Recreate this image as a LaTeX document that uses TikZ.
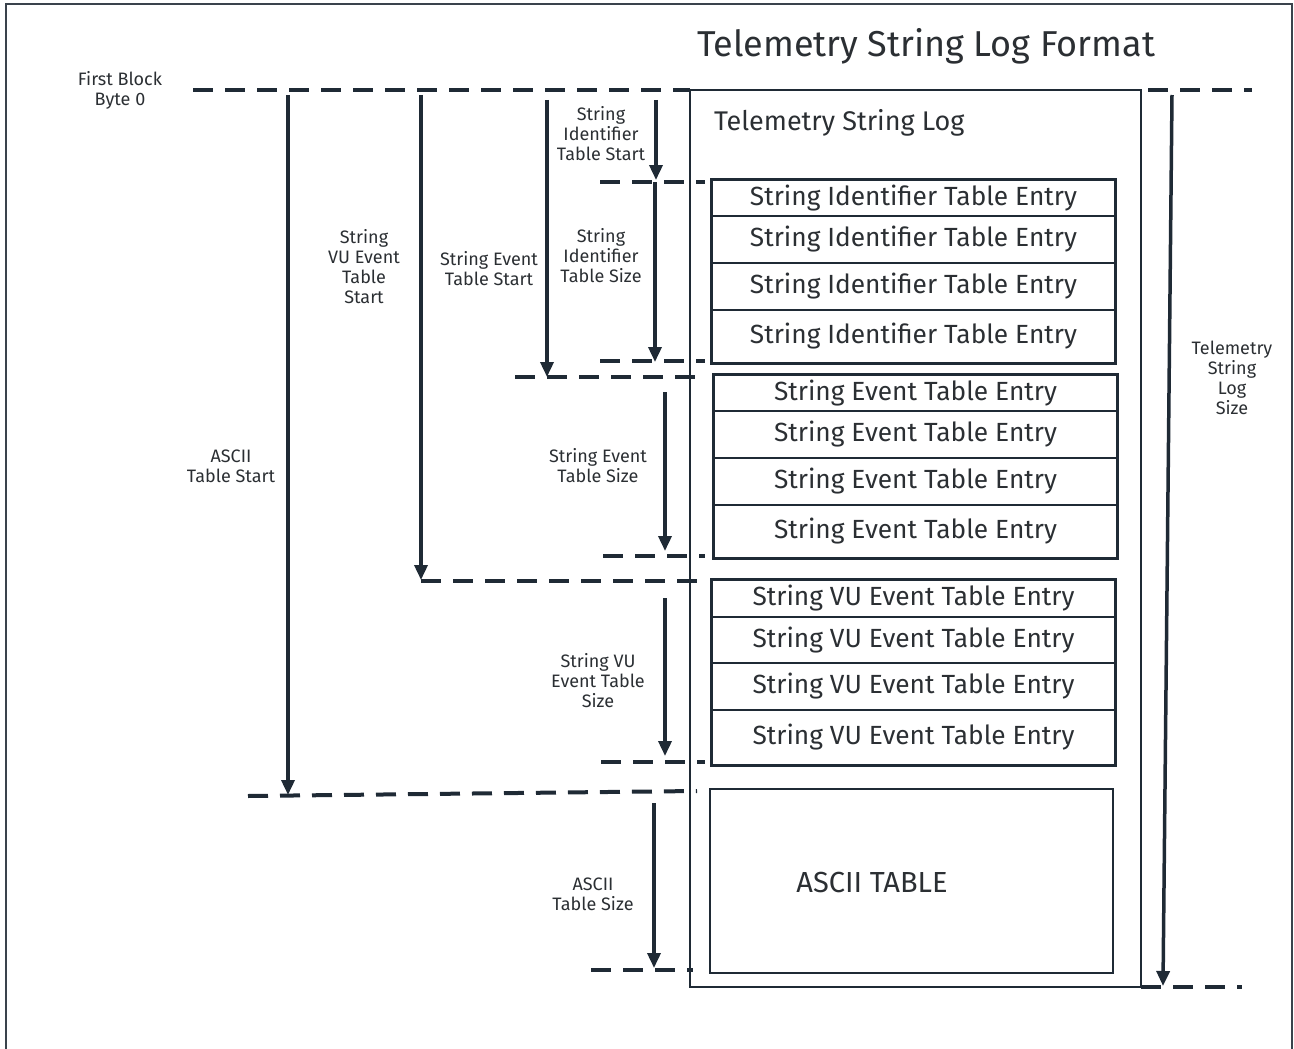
\documentclass[tikz,border=0pt]{standalone}
\usepackage{fontspec}
\setmainfont{Fira Sans}
\usetikzlibrary{arrows.meta}
\definecolor{ink}{HTML}{1F2A35}
\definecolor{txt}{HTML}{2B2F33}
\definecolor{frame}{HTML}{3A434C}

% one row of an entry table: name, left, right, top, bottom, text
\newcommand\tablerow[6]{%
  \node[entry, minimum width={(#3)-(#2)}, minimum height={(#5)-(#4)}]
    (#1) at ({((#2)+(#3))/2},{((#4)+(#5))/2}) {\raisebox{-1.5pt}{#6}};}

\begin{document}
\begin{tikzpicture}[x=1pt,y=-1pt,
  guide/.style={draw=ink, line width=4pt, dash pattern=on 20pt off 12pt},
  measure/.style={draw=ink, line width=3.5pt, -{Triangle[width=13pt,length=15pt]}},
  lbl/.style={text=txt, align=center, font=\fontsize{18}{20}\selectfont, inner sep=0pt},
  entry/.style={draw=ink, line width=1.5pt, inner sep=0pt, text=txt,
    font=\fontsize{26.3}{30}\selectfont},
  tableframe/.style={draw=ink, line width=2.5pt},
]
\useasboundingbox (0,0) rectangle (1294,1049);

% page frame
\draw[frame, line width=2pt] (6,1049) -- (6,4) -- (1292,4) -- (1292,1049);

% title
\node[text=txt, font=\fontsize{36}{40}\selectfont, inner sep=0pt] (title) at (926,46) {Telemetry String Log Format};

% telemetry string log container
\node[draw=ink, line width=2pt, minimum width=451, minimum height=897, inner sep=0pt] (log) at (915.5,538.5) {};
\node[text=txt, font=\fontsize{27}{30}\selectfont, anchor=west, inner sep=0pt] (logname) at (714,123) {Telemetry String Log};

% string identifier table
\tablerow{si1}{712}{1115}{180}{216}{String Identifier Table Entry}
\tablerow{si2}{712}{1115}{216}{263}{String Identifier Table Entry}
\tablerow{si3}{712}{1115}{263}{310}{String Identifier Table Entry}
\tablerow{si4}{712}{1115}{310}{363}{String Identifier Table Entry}
\draw[tableframe] (si1.north west) rectangle (si4.south east);

% string event table
\tablerow{se1}{714}{1117}{375}{411}{String Event Table Entry}
\tablerow{se2}{714}{1117}{411}{458}{String Event Table Entry}
\tablerow{se3}{714}{1117}{458}{505}{String Event Table Entry}
\tablerow{se4}{714}{1117}{505}{558}{String Event Table Entry}
\draw[tableframe] (se1.north west) rectangle (se4.south east);

% string VU event table
\tablerow{vu1}{712}{1115}{580}{617}{String VU Event Table Entry}
\tablerow{vu2}{712}{1115}{617}{663}{String VU Event Table Entry}
\tablerow{vu3}{712}{1115}{663}{710}{String VU Event Table Entry}
\tablerow{vu4}{712}{1115}{710}{765}{String VU Event Table Entry}
\draw[tableframe] (vu1.north west) rectangle (vu4.south east);

% ascii table
\node[draw=ink, line width=2.5pt, minimum width=403, minimum height=184, inner sep=0pt] (ascii) at (911.5,881) {};
\node[text=txt, font=\fontsize{29}{32}\selectfont, inner sep=0pt] (asciilbl) at (872,883) {ASCII TABLE};

% offset guide lines
\coordinate (g0a) at (193,90);   \coordinate (g0b) at (690,90);
\coordinate (g0c) at (1148,90);  \coordinate (g0d) at (1252,90);
\coordinate (g1a) at (600,182);  \coordinate (g1b) at (705,182);
\coordinate (g2a) at (600,361);  \coordinate (g2b) at (705,361);
\coordinate (g3a) at (515,377);  \coordinate (g3b) at (705,377);
\coordinate (g4a) at (603,556);  \coordinate (g4b) at (705,556);
\coordinate (g5a) at (421,581);  \coordinate (g5b) at (697,581);
\coordinate (g6a) at (601,762);  \coordinate (g6b) at (705,762);
\coordinate (g7a) at (248,796);  \coordinate (g7b) at (697,791);
\coordinate (g8a) at (591,970);  \coordinate (g8b) at (693,970);
\coordinate (g9a) at (1141,987); \coordinate (g9b) at (1242,987);
\foreach \n in {0,1,2,3,4,5,6,7,8,9} \draw[guide] (g\n a) -- (g\n b);
\draw[guide] (g0c) -- (g0d);

% measurement arrows
\coordinate (a1s) at (288,95);   \coordinate (a1e) at (288,795);
\coordinate (a2s) at (421,95);   \coordinate (a2e) at (421,580);
\coordinate (a3s) at (547,100);  \coordinate (a3e) at (547,377);
\coordinate (a4s) at (656,100);  \coordinate (a4e) at (656,180);
\coordinate (a5s) at (655,182);  \coordinate (a5e) at (655,362);
\coordinate (a6s) at (665,392);  \coordinate (a6e) at (665,551);
\coordinate (a7s) at (665,598);  \coordinate (a7e) at (665,756);
\coordinate (a8s) at (654,803);  \coordinate (a8e) at (654,968);
\coordinate (a9s) at (1172,95);  \coordinate (a9e) at (1163,986);
\foreach \n in {1,...,9} \draw[measure] (a\n s) -- (a\n e);

% labels
\node[lbl] (l0) at (120,90.5) {First Block\\Byte 0};
\node[lbl] (l1) at (231,466) {ASCII\\Table Start};
\node[lbl] (l2) at (364,267) {String\\VU Event\\Table\\Start};
\node[lbl] (l3) at (489,269) {String Event\\Table Start};
\node[lbl] (l4) at (601,134) {String\\Identifier\\Table Start};
\node[lbl] (l5) at (601,256) {String\\Identifier\\Table Size};
\node[lbl] (l6) at (598,466) {String Event\\Table Size};
\node[lbl] (l7) at (598,681) {String VU\\Event Table\\Size};
\node[lbl] (l8) at (593,894) {ASCII\\Table Size};
\node[lbl] (l9) at (1232,378) {Telemetry\\String\\Log\\Size};
\end{tikzpicture}
\end{document}
